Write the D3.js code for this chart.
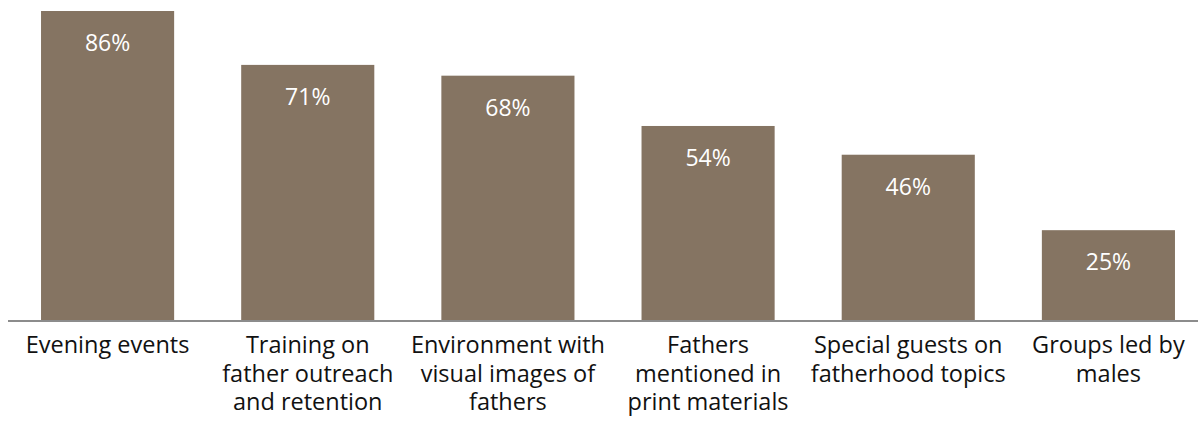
<!DOCTYPE html>
<html>
<head>
<meta charset="utf-8">
<script src="https://cdn.jsdelivr.net/npm/d3@7"></script>
<style>
  html, body { margin: 0; padding: 0; background: #fff; }
  svg { display: block; }
  text { font-family: "Open Sans", "Noto Sans", sans-serif; }
</style>
</head>
<body>
<div id="chart"></div>
<script>
// Share of programs using each father-engagement practice (%)
const categories = [
  ["Evening events"],
  ["Training on", "father outreach", "and retention"],
  ["Environment with", "visual images of", "fathers"],
  ["Fathers", "mentioned in", "print materials"],
  ["Special guests on", "fatherhood topics"],
  ["Groups led by", "males"]
];
const values = [86, 71, 68, 54, 46, 25];

const width = 1198, height = 432;
const baseline = 320;
const barColor = "#857462";

const svg = d3.select("#chart").append("svg")
  .attr("width", width)
  .attr("height", height);

const x = d3.scaleBand()
  .domain(d3.range(categories.length))
  .range([8, 1208])
  .paddingInner(0.335)
  .paddingOuter(0.165);

const y = d3.scaleLinear()
  .domain([0, 86])
  .range([baseline, 11]);

// Bars
svg.append("g").selectAll("rect")
  .data(values)
  .join("rect")
  .attr("x", (d, i) => x(i))
  .attr("y", d => y(d))
  .attr("width", x.bandwidth())
  .attr("height", d => baseline - y(d))
  .attr("fill", barColor);

// Value labels inside the top of each bar
svg.append("g").selectAll("text")
  .data(values)
  .join("text")
  .attr("x", (d, i) => x(i) + x.bandwidth() / 2)
  .attr("y", d => y(d) + 40)
  .attr("text-anchor", "middle")
  .attr("fill", "#ffffff")
  .attr("font-size", 23)
  .text(d => d + "%");

// Baseline axis
svg.append("line")
  .attr("x1", 8).attr("x2", width)
  .attr("y1", baseline + 1).attr("y2", baseline + 1)
  .attr("stroke", "#8c8c8c")
  .attr("stroke-width", 2);

// Multi-line category labels
const labels = svg.append("g").selectAll("text")
  .data(categories)
  .join("text")
  .attr("text-anchor", "middle")
  .attr("fill", "#111")
  .attr("font-size", 23.5)
  .attr("x", (d, i) => x(i) + x.bandwidth() / 2)
  .attr("y", 353);

labels.selectAll("tspan")
  .data(d => d)
  .join("tspan")
  .attr("x", function () { return d3.select(this.parentNode).attr("x"); })
  .attr("dy", (d, i) => i === 0 ? 0 : 28.5)
  .text(d => d);
</script>
</body>
</html>
